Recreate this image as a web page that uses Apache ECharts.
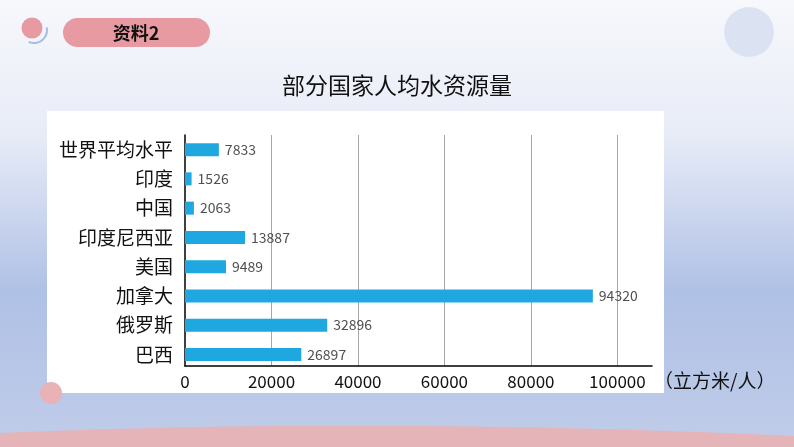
<!DOCTYPE html>
<html><head><meta charset="utf-8">
<script src="https://cdn.jsdelivr.net/npm/echarts@6/dist/echarts.min.js"></script>
<style>html,body{margin:0;padding:0;}#c{width:794px;height:447px;}</style>
</head><body><div id="c"></div>
<script>
const categories = ['世界平均水平','印度','中国','印度尼西亚','美国','加拿大','俄罗斯','巴西'];
const values = [7833, 1526, 2063, 13887, 9489, 94320, 32896, 26897];
const xTicks = [0, 20000, 40000, 60000, 80000, 100000];
const titleText = '部分国家人均水资源量';
const unitText = '（立方米/人）';
const tagText = '资料2';

const font = '"Noto Sans CJK SC", "Noto Sans", sans-serif';

// decorative bottom band curve
const band = [];
for (let i = 0; i <= 40; i++) {
  const t = i / 40;
  const x = 2 * (1 - t) * t * 380 + t * t * 794;
  const y = (1 - t) * (1 - t) * 433 + 2 * (1 - t) * t * 417 + t * t * 436;
  band.push([x, y]);
}
band.push([794, 447], [0, 447]);

const chart = echarts.init(document.getElementById('c'));
chart.setOption({
  backgroundColor: {
    type: 'linear', x: 0, y: 0, x2: 0, y2: 1,
    colorStops: [
      {offset: 0, color: '#f7f8fc'},
      {offset: 0.3, color: '#e8ecf7'},
      {offset: 0.65, color: '#b0c1e6'},
      {offset: 1, color: '#c0cce9'}
    ]
  },
  textStyle: {fontFamily: font},
  graphic: [
    {type: 'rect', z: -10, shape: {x: 47, y: 111, width: 617, height: 282}, style: {fill: '#ffffff'}},
    {type: 'polygon', z: -9, shape: {points: band}, style: {fill: '#e5b4b9'}},
    {type: 'circle', z: -8, shape: {cx: 51, cy: 393, r: 11}, style: {fill: '#e8b2b6'}},
    {type: 'circle', z: -8, shape: {cx: 749, cy: 32, r: 25}, style: {fill: '#dbe3f3'}},
    {type: 'arc', z: -8, shape: {cx: 34, cy: 30, r: 13, startAngle: -0.2, endAngle: 2.0}, style: {stroke: '#a3c0e2', lineWidth: 2, fill: null}},
    {type: 'circle', z: -7, shape: {cx: 32, cy: 28, r: 10.5}, style: {fill: '#e89aa3'}},
    {type: 'rect', z: -7, shape: {x: 63, y: 18, width: 147, height: 29, r: 14.5}, style: {fill: '#e89aa3'}},
    {type: 'text', z: -6, x: 136, y: 33, style: {text: tagText, fill: '#111', font: 'bold 18px ' + font, textAlign: 'center', textVerticalAlign: 'middle'}}
  ],
  title: {
    text: titleText, left: 'center', top: 69,
    textStyle: {fontFamily: font, fontSize: 23, fontWeight: 'normal', color: '#111'}
  },
  grid: [
    {left: 185, right: 142, top: 135, bottom: 81, containLabel: false},
    {left: 185, right: 142, top: 135, bottom: 78, containLabel: false}
  ],
  xAxis: [{
    gridIndex: 0,
    type: 'value', min: 0, max: 108000, interval: 20000,
    name: unitText, nameLocation: 'end', nameGap: 2,
    nameTextStyle: {fontFamily: font, fontSize: 19, color: '#111', verticalAlign: 'top', align: 'left', padding: [5, 0, 0, 0]},
    axisLine: {show: true, lineStyle: {color: '#000', width: 1.5}},
    axisTick: {show: false},
    axisLabel: {
      fontFamily: font, fontSize: 17, color: '#111', margin: 7, showMaxLabel: false,
      formatter: v => xTicks.includes(v) ? String(v) : ''
    },
    splitLine: {show: true, showMinLine: false, showMaxLine: false, lineStyle: {color: '#a6a6a6', width: 1}}
  }, {
    gridIndex: 1,
    type: 'value', min: 0, max: 108000, interval: 20000,
    axisLine: {show: false}, axisTick: {show: false}, axisLabel: {show: false}, splitLine: {show: false}
  }],
  yAxis: [{
    gridIndex: 0,
    type: 'category', data: categories, inverse: true,
    axisLine: {show: true, lineStyle: {color: '#000', width: 1.5}},
    axisTick: {show: false},
    axisLabel: {show: false}
  }, {
    gridIndex: 1,
    type: 'category', data: categories, inverse: true,
    axisLine: {show: false},
    axisTick: {show: false},
    axisLabel: {fontFamily: font, fontSize: 19, color: '#111', margin: 12}
  }],
  series: [{
    type: 'bar', data: values, barWidth: 13, xAxisIndex: 1, yAxisIndex: 1,
    itemStyle: {color: '#1fa8e0'},
    label: {show: true, position: 'right', distance: 6, fontFamily: font, fontSize: 14, color: '#505050'}
  }]
});
</script></body></html>
